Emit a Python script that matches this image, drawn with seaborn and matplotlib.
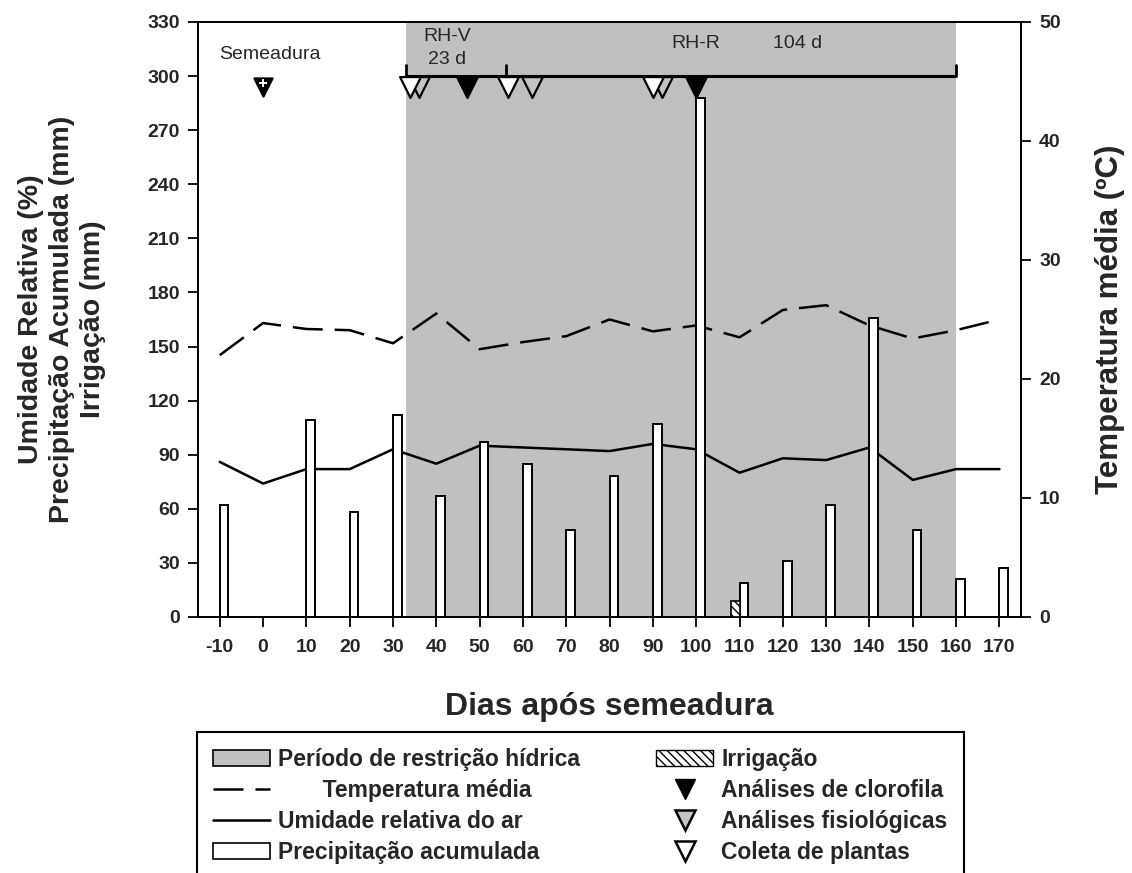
import matplotlib
matplotlib.use("Agg")
import matplotlib.pyplot as plt
import numpy as np
import pandas as pd
import seaborn as sns
from matplotlib.patches import Patch
from matplotlib.lines import Line2D

# ---- data -------------------------------------------------------------
days = [-10, 0, 10, 20, 30, 40, 50, 60, 70, 80, 90, 100, 110, 120, 130, 140, 150, 160, 170]
rel_humidity = [86, 74, 82, 82, 93, 85, 95, 94, 93, 92, 96, 93, 80, 88, 87, 94, 76, 82, 82]
mean_temp = [22.0, 24.7, 24.2, 24.1, 23.0, 25.5, 22.5, 23.1, 23.6, 25.0, 24.0, 24.5, 23.5,
             25.8, 26.2, 24.5, 23.4, 24.1, 25.0]

rain_days = [-10, 10, 20, 30, 40, 50, 60, 70, 80, 90, 100, 110, 120, 130, 140, 150, 160, 170]
rain_mm = [62, 109, 58, 112, 67, 97, 85, 48, 78, 107, 288, 19, 31, 62, 166, 48, 21, 27]

irrigation_days = [108]
irrigation_mm = [9]

sowing_day = [0]
plant_sampling_days = [34, 56.5, 90]      # Coleta de plantas
physiology_days = [36, 62, 92]            # Análises fisiológicas
chlorophyll_days = [47, 100]              # Análises de clorofila

restriction_start = 33
rhv_length = 23
rhr_length = 104

x_ticks = list(range(-10, 171, 10))
y_ticks = list(range(0, 331, 30))
t_ticks = list(range(0, 51, 10))

# ---- style ------------------------------------------------------------
sns.set_style("ticks")
plt.rcParams["font.family"] = ["Liberation Sans", "DejaVu Sans"]
plt.rcParams["hatch.linewidth"] = 1.0

SHADE = "#c0c0c0"
GRAY_MARK = "#c4c4c4"
LW = 1.8
TEMP_DASH = (12, 4.8)
MARK_Y = 294
MS = 15

fig = plt.figure(figsize=(11.32, 8.73), dpi=100)
ax_t = fig.add_axes([0.175, 0.2933, 0.727, 0.6815])   # temperature (right scale), drawn underneath
ax = ax_t.twinx()                                     # main axis (left scale)
ax.yaxis.tick_left()
ax.yaxis.set_label_position("left")
ax_t.yaxis.tick_right()
ax_t.yaxis.set_label_position("right")
ax.patch.set_visible(False)

# restriction period shading
rest_end = restriction_start + rhv_length + rhr_length
ax_t.axvspan(restriction_start, rest_end, color=SHADE, lw=0, zorder=0)

# mean temperature (dashed) on the right-hand scale
df = pd.DataFrame({"dia": days, "ur": rel_humidity, "temp": mean_temp})
sns.lineplot(data=df, x="dia", y="temp", ax=ax_t, color="black", lw=LW, zorder=2)
ax_t.lines[-1].set_dashes(TEMP_DASH)

# relative humidity (solid) on the left-hand scale
sns.lineplot(data=df, x="dia", y="ur", ax=ax, color="black", lw=LW, zorder=2)

# accumulated rainfall and irrigation bars
ax.bar(rain_days, rain_mm, width=2, align="edge", facecolor="white",
       edgecolor="black", lw=1.4, zorder=3)
ax.bar(irrigation_days, irrigation_mm, width=2, align="edge", facecolor="white",
       edgecolor="black", hatch="\\\\\\\\", lw=1.2, zorder=3)

# period bracket across the top
ax.plot([restriction_start, rest_end], [300, 300], color="black", lw=2.2, zorder=4,
        solid_capstyle="butt")
for xb in (restriction_start, restriction_start + rhv_length, rest_end):
    ax.plot([xb, xb], [300, 306], color="black", lw=2.0, zorder=4)

# sampling / analysis markers
mk = pd.DataFrame({
    "dia": physiology_days + plant_sampling_days + chlorophyll_days,
    "grupo": ["fis"] * len(physiology_days) + ["col"] * len(plant_sampling_days)
             + ["clo"] * len(chlorophyll_days),
})
mk["y"] = MARK_Y
face = {"fis": GRAY_MARK, "col": "white", "clo": "black"}
for g in ["fis", "col", "clo"]:
    sub = mk[mk["grupo"] == g]
    sns.scatterplot(data=sub, x="dia", y="y", ax=ax, marker="v", s=MS ** 2,
                    color=face[g], edgecolor="black", linewidth=1.6, zorder=5)
sns.scatterplot(x=sowing_day, y=[MARK_Y] * len(sowing_day), ax=ax, marker="v",
                s=MS ** 2 * 0.75, color="black", edgecolor="black", linewidth=1.6, zorder=5)
sns.scatterplot(x=sowing_day, y=[MARK_Y + 2] * len(sowing_day), ax=ax, marker="P",
                s=40, color="white", edgecolor="white", linewidth=0, zorder=6)

# annotations
ax.text(sowing_day[0] + 1.5, 312, "Semeadura", ha="center", va="center", fontsize=14)
ax.text(restriction_start + 9.5, 322, "RH-V", ha="center", va="center", fontsize=14)
ax.text(restriction_start + 9.5, 309, f"{rhv_length} d", ha="center", va="center", fontsize=14)
ax.text(100, 318, "RH-R", ha="center", va="center", fontsize=14)
ax.text(123.5, 318, f"{rhr_length} d", ha="center", va="center", fontsize=14)

# axes limits, ticks and labels
ax.set_xlim(-15, 175)
ax.set_ylim(0, 330)
ax_t.set_ylim(0, 50)
ax.set_xticks(x_ticks)
ax.set_yticks(y_ticks)
ax_t.set_yticks(t_ticks)
for a in (ax, ax_t):
    a.tick_params(axis="both", length=7, width=1.3, color="black",
                  labelsize=14, direction="out", pad=6)
    for lab in a.get_xticklabels() + a.get_yticklabels():
        lab.set_fontweight("bold")
    for sp in a.spines.values():
        sp.set_visible(True)
        sp.set_color("black")
        sp.set_linewidth(1.3)
ax_t.tick_params(axis="x", labelbottom=True, pad=9)
ax_t.set_xticks(x_ticks)
ax_t.set_xticklabels([str(v) for v in x_ticks], fontweight="bold", fontsize=14)
ax.tick_params(axis="x", bottom=False, labelbottom=False)

ax.set_xlabel("")
ax_t.set_xlabel("Dias após semeadura", fontsize=23, fontweight="bold", labelpad=26)
ax.set_ylabel("Umidade Relativa (%)\nPrecipitação Acumulada (mm)\nIrrigação (mm)",
              fontsize=20.5, fontweight="bold", linespacing=1.25, labelpad=30)
ax_t.set_ylabel("Temperatura média (ºC)", fontsize=22.5, fontweight="bold", labelpad=25)

# legend
handles = [
    Patch(facecolor=SHADE, edgecolor="black", lw=1.2),
    Line2D([], [], color="black", lw=LW, dashes=TEMP_DASH),
    Line2D([], [], color="black", lw=LW),
    Patch(facecolor="white", edgecolor="black", lw=1.2),
    Patch(facecolor="white", edgecolor="black", hatch="\\\\\\\\", lw=1.0),
    Line2D([], [], ls="none", marker="v", ms=15, mfc="black", mec="black"),
    Line2D([], [], ls="none", marker="v", ms=15, mfc=GRAY_MARK, mec="black", mew=1.8),
    Line2D([], [], ls="none", marker="v", ms=15, mfc="white", mec="black", mew=1.8),
]
labels = [
    "Período de restrição hídrica",
    "       Temperatura média",
    "Umidade relativa do ar",
    "Precipitação acumulada",
    "Irrigação",
    "Análises de clorofila",
    "Análises fisiológicas",
    "Coleta de plantas",
]
leg = fig.legend(handles, labels, ncol=2, loc="upper left",
                 bbox_to_anchor=(0.174, 1 - 732 / 873),
                 frameon=True, fancybox=False, framealpha=1, edgecolor="black",
                 prop={"size": 16.5, "weight": "bold"}, handlelength=2.5,
                 handleheight=0.7, handletextpad=0.35, labelspacing=0.35,
                 columnspacing=3.3, borderpad=0.7, borderaxespad=0)
leg.get_frame().set_linewidth(1.5)

fig.savefig("out.png", dpi=100)
